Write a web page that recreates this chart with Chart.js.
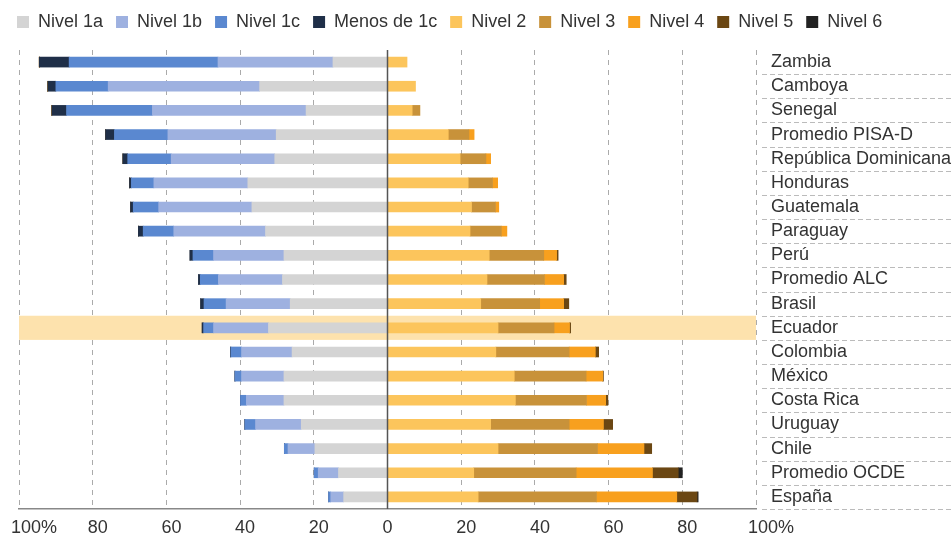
<!DOCTYPE html>
<html>
<head>
<meta charset="utf-8">
<script src="https://cdn.jsdelivr.net/npm/chart.js@4.4.1/dist/chart.umd.min.js"></script>
<style>
  html, body { margin: 0; padding: 0; background: #fff; }
</style>
</head>
<body>
<canvas id="pisaChart" width="952" height="543"></canvas>
<script>
// Países / promedios (de arriba a abajo)
const paises = ['Zambia', 'Camboya', 'Senegal', 'Promedio PISA-D', 'República Dominicana', 'Honduras',
  'Guatemala', 'Paraguay', 'Perú', 'Promedio ALC', 'Brasil', 'Ecuador', 'Colombia', 'México',
  'Costa Rica', 'Uruguay', 'Chile', 'Promedio OCDE', 'España'];
const paisResaltado = 'Ecuador';

// Porcentaje de estudiantes por nivel (debajo del nivel 2 se dibuja a la izquierda)
const nivel1a = [14.8, 34.7, 22.1, 30.2, 30.6, 37.9, 36.8, 33.1, 28.1, 28.5, 26.4, 32.3, 25.9, 28.1, 28.1, 23.4, 19.7, 13.3, 11.9];
const nivel1b = [31.2, 41.1, 41.7, 29.4, 28.1, 25.5, 25.3, 24.9, 19.1, 17.4, 17.4, 14.9, 13.7, 11.5, 10.2, 12.4, 7.3, 5.5, 3.5];
const nivel1c = [40.4, 14.2, 23.3, 14.5, 11.8, 6.1, 6.9, 8.3, 5.6, 4.9, 6.0, 2.7, 2.9, 1.8, 1.6, 2.9, 1.0, 1.1, 0.6];
const menos1c = [8.1, 2.2, 4.0, 2.4, 1.3, 0.5, 0.7, 1.3, 0.8, 0.5, 0.9, 0.4, 0.1, 0, 0, 0, 0, 0, 0];
const nivel2 = [5.3, 7.6, 6.7, 16.5, 19.7, 21.9, 22.8, 22.4, 27.6, 27.0, 25.3, 30.0, 29.4, 34.4, 34.7, 28.0, 30.0, 23.4, 24.6];
const nivel3 = [0, 0, 2.1, 5.6, 7.0, 6.6, 6.5, 8.5, 14.8, 15.6, 16.0, 15.2, 19.9, 19.5, 19.3, 21.3, 27.0, 27.8, 32.1];
const nivel4 = [0, 0, 0, 1.4, 1.3, 1.4, 0.9, 1.5, 3.5, 5.2, 6.5, 4.2, 7.1, 4.5, 5.2, 9.3, 12.6, 20.7, 21.8];
const nivel5 = [0, 0, 0, 0, 0, 0, 0, 0, 0.4, 0.7, 1.4, 0.3, 0.9, 0.2, 0.6, 2.5, 2.1, 7.0, 5.5];
const nivel6 = [0, 0, 0, 0, 0, 0, 0, 0, 0, 0, 0, 0, 0, 0, 0, 0, 0, 1.1, 0.3];

const series = [
  { label: 'Nivel 1a', data: nivel1a, color: '#d4d4d4', izquierda: true },
  { label: 'Nivel 1b', data: nivel1b, color: '#9eb1e0', izquierda: true },
  { label: 'Nivel 1c', data: nivel1c, color: '#5a88d0', izquierda: true },
  { label: 'Menos de 1c', data: menos1c, color: '#1f2f48', izquierda: true },
  { label: 'Nivel 2', data: nivel2, color: '#fcc55c' },
  { label: 'Nivel 3', data: nivel3, color: '#c8923a' },
  { label: 'Nivel 4', data: nivel4, color: '#f8a01e' },
  { label: 'Nivel 5', data: nivel5, color: '#6b4713' },
  { label: 'Nivel 6', data: nivel6, color: '#222222' }
];

const fuente = { family: '"Liberation Sans", Arial, sans-serif', size: 18 };

// deja más aire entre la leyenda y el gráfico
const espacioLeyenda = {
  id: 'espacioLeyenda',
  beforeInit(chart) {
    const fitOriginal = chart.legend.fit;
    chart.legend.fit = function () {
      fitOriginal.call(this);
      this.height += 9;
    };
  }
};

// franja de Ecuador, línea del cero y separadores de etiquetas
const resaltado = {
  id: 'resaltado',
  beforeDatasetsDraw(chart) {
    const { ctx, chartArea, scales: { y } } = chart;
    const fila = (y.bottom - y.top) / paises.length;
    const yc = y.getPixelForValue(paises.indexOf(paisResaltado));
    ctx.save();
    ctx.fillStyle = '#fde2ad';
    ctx.fillRect(chartArea.left, yc - fila / 2, chartArea.right - chartArea.left, fila);
    ctx.restore();
  },
  afterDatasetsDraw(chart) {
    const { ctx, chartArea, scales: { x } } = chart;
    const x0 = x.getPixelForValue(0);
    ctx.save();
    ctx.strokeStyle = '#555';
    ctx.lineWidth = 1.5;
    ctx.beginPath();
    ctx.moveTo(x0, chartArea.top);
    ctx.lineTo(x0, chartArea.bottom);
    ctx.stroke();
    ctx.restore();
  },
  afterDraw(chart) {
    const { ctx, chartArea, scales: { y }, width } = chart;
    const fila = (y.bottom - y.top) / paises.length;
    ctx.save();
    ctx.strokeStyle = '#bbbbbb';
    ctx.lineWidth = 1;
    ctx.setLineDash([5, 3]);
    paises.forEach((p, i) => {
      const yl = Math.round(y.getPixelForValue(i) + fila / 2) + 0.5;
      ctx.beginPath();
      ctx.moveTo(chartArea.right + 6, yl);
      ctx.lineTo(width, yl);
      ctx.stroke();
    });
    ctx.restore();
  }
};

new Chart(document.getElementById('pisaChart'), {
  type: 'bar',
  data: {
    labels: paises,
    datasets: series.map(s => ({
      label: s.label,
      data: s.izquierda ? s.data.map(v => -v) : s.data,
      backgroundColor: s.color,
      borderWidth: 0,
      barThickness: 10
    }))
  },
  options: {
    indexAxis: 'y',
    responsive: false,
    animation: false,
    layout: { padding: { top: 0, left: 4, right: 0, bottom: 0 } },
    plugins: {
      tooltip: { enabled: false },
      legend: {
        position: 'top',
        align: 'start',
        labels: {
          boxWidth: 12,
          boxHeight: 12,
          padding: 13,
          color: '#333',
          font: fuente
        }
      }
    },
    scales: {
      x: {
        stacked: true,
        min: -100,
        max: 100,
        ticks: {
          stepSize: 20,
          autoSkip: false,
          padding: 8,
          color: '#333',
          font: fuente,
          maxRotation: 0,
          callback: v => v === 0 ? '0' : (Math.abs(v) === 100 ? '      100%' : '  ' + Math.abs(v))
        },
        grid: {
          drawTicks: false,
          color: ctx => ctx.tick && ctx.tick.value === 0 ? 'rgba(0,0,0,0)' : '#aaaaaa',
          lineWidth: 1
        },
        border: { display: true, color: '#888', width: 1.5, dash: [5, 5] },
        afterFit: scale => {
          scale.paddingLeft = 19;
          scale.height = 34;
        }
      },
      y: {
        stacked: true,
        position: 'right',
        ticks: {
          autoSkip: false,
          crossAlign: 'near',
          padding: 7,
          color: '#333',
          font: fuente
        },
        grid: { display: false },
        border: { display: false },
        afterFit: scale => { scale.width = 196; }
      }
    }
  },
  plugins: [espacioLeyenda, resaltado]
});
</script>
</body>
</html>
